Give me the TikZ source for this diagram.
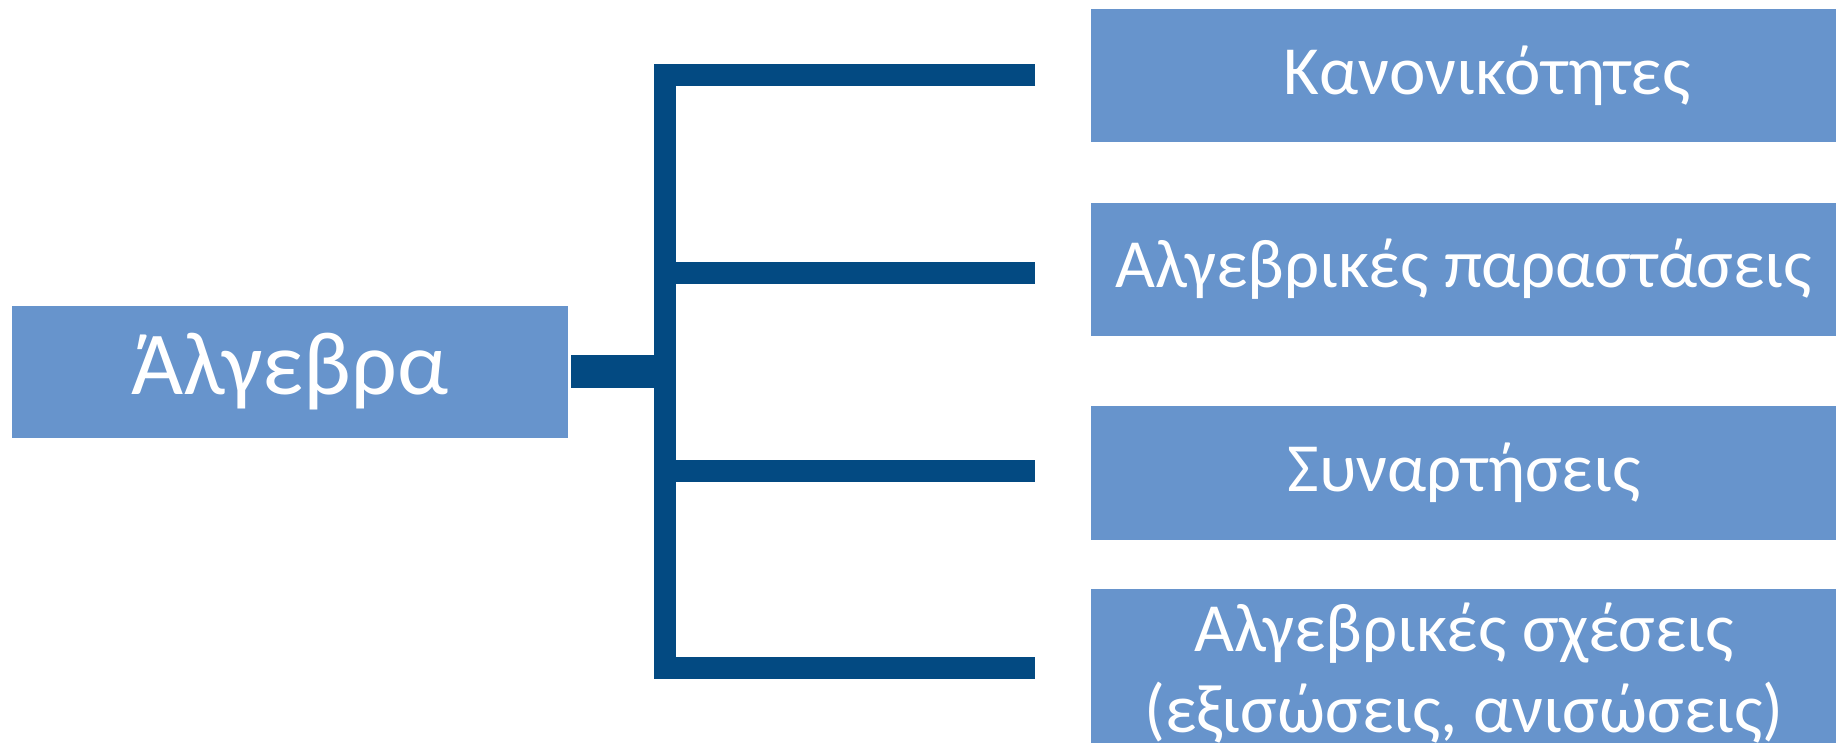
\documentclass[tikz,border=0pt]{standalone}
\usepackage{fontspec}
\setmainfont{Carlito}
\definecolor{boxblue}{RGB}{103,148,204}
\definecolor{linkblue}{RGB}{3,74,130}
\begin{document}
\begin{tikzpicture}[x=1pt,y=-1pt,
  topic/.style={fill=boxblue, draw=none, inner sep=0pt, text=white, align=center,
    font=\fontsize{69}{81}\selectfont},
  link/.style={draw=linkblue, line join=miter, line cap=butt}]
\useasboundingbox (0,0) rectangle (1836,742);
\begin{scope}
\clip (0,0) rectangle (1836,742);
\node[topic, minimum width=556pt, minimum height=132pt, font=\fontsize{90}{100}\selectfont] (root) at (290,372) {Άλγεβρα};
\node[topic, minimum width=792pt, minimum height=133pt] (c1) at (1487,75.5) {Κανονικότητες};
\node[topic, minimum width=746pt, minimum height=133pt] (c2) at (1464,269.5) {Αλγεβρικές παραστάσεις};
\node[topic, minimum width=746pt, minimum height=134pt] (c3) at (1464,473) {Συναρτήσεις};
\node[topic, minimum width=746pt, minimum height=168pt] (c4) at (1464,673) {Αλγεβρικές σχέσεις\\(εξισώσεις, ανισώσεις)};
\end{scope}
\coordinate (e1) at (1035,75);
\coordinate (e2) at (1035,273);
\coordinate (e3) at (1035,471);
\coordinate (e4) at (1035,668);
\coordinate (hub) at (664.5,371.5);
\draw[link, line width=33pt] ([xshift=3pt]root.east |- hub) -- (hub);
\draw[link, line width=22pt] (e1) -- (hub |- e1) -- (hub |- e4) -- (e4);
\draw[link, line width=22pt] (hub |- e2) -- (e2);
\draw[link, line width=22pt] (hub |- e3) -- (e3);
\end{tikzpicture}
\end{document}
